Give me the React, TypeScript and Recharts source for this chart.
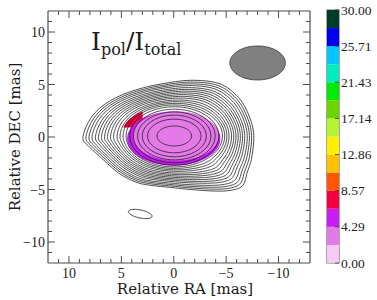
import React from "react";
import { Area, Bar, BarChart, ComposedChart, Line, ReferenceArea, XAxis, YAxis } from "recharts";

// Polarisation-fraction map: total-intensity contours with Ipol/Itotal colour fill and a colour bar.

const RA_DOMAIN: [number, number] = [-13, 12];
const DEC_DOMAIN: [number, number] = [-12, 12];
const raTicks = [-12, -11, -10, -9, -8, -7, -6, -5, -4, -3, -2, -1, 0, 1, 2, 3, 4, 5, 6, 7, 8, 9, 10, 11];
const decTicks = [-11, -10, -9, -8, -7, -6, -5, -4, -3, -2, -1, 0, 1, 2, 3, 4, 5, 6, 7, 8, 9, 10, 11];

// core of the source (mas)
const coreRA = -0.05;
const coreDEC = 0.1;

// inner contours: semi-axes of the nested ellipses (mas)
const innerA = [1.65, 2.55, 3.05, 3.5, 3.9, 4.25];
const innerB = [0.95, 1.6, 1.98, 2.28, 2.55, 2.78];

// outer contours fan out from this ellipse to the outermost contour below
const baseA = 4.6;
const baseB = 2.95;
const outerLevels = [0, 0.07, 0.14, 0.21, 0.29, 0.36, 0.43, 0.5, 0.57, 0.64, 0.71, 0.79, 0.86, 0.93, 1];

// outermost contour (clockwise from the eastern tip)
const outerRA = [8.67, 8.1, 7.0, 5.4, 3.4, 1.2, -1.6, -4.3, -6.0, -7.0, -7.62, -7.45, -7.0, -6.6, -5.6, -4.0, -1.6, 0.3, 2.2, 3.6, 5.3, 6.9, 8.1];
const outerDEC = [-0.1, 1.5, 2.8, 3.8, 4.55, 5.05, 5.4, 5.1, 3.95, 2.45, 0.4, -1.9, -3.4, -4.6, -5.05, -5.15, -5.0, -4.8, -4.6, -4.3, -3.4, -2.0, -0.9];

// isolated contour south-east of the core: centre, semi-axes, tilt (deg)
const blobRA = 3.2;
const blobDEC = -7.33;
const blobA = 1.15;
const blobB = 0.38;
const blobTilt = -12;

// restoring beam
const beamRA = -8.0;
const beamDEC = 7.05;
const beamA = 2.65;
const beamB = 1.62;

// polarisation fraction patches: centre RA, centre DEC, semi-axes, colour band, RA window, DEC floor
const patchRA = [0.5, 0.0, -0.2];
const patchDEC = [0.3, -0.15, 0.1];
const patchA = [4.45, 4.45, 4.1];
const patchB = [2.58, 2.58, 2.35];
const patchBand = [3, 2, 1];
const patchMinRA = [2.9, -10, -10];
const patchFloor = [0.9, NaN, NaN];

// colour bar
const bandEdges = [0, 2.14, 4.29, 6.43, 8.57, 10.71, 12.86, 15.0, 17.14, 19.29, 21.43, 23.57, 25.71, 27.86, 30.0];
const bandColors = [
  "#f6c9f6", "#e37ae8", "#c81bf5", "#f5003f", "#ff5500", "#ffc000", "#ffef00",
  "#b4f532", "#6ed400", "#00ea00", "#00ebc0", "#00c8ff", "#0000ee", "#003c28",
];
const barTicks = [0, 4.29, 8.57, 12.86, 17.14, 21.43, 25.71, 30.0];

const AXIS = "#4d4d4d";
const INK = "#1e1e1e";
const TICK_FONT = "'Liberation Serif', serif";
const LABEL_FONT = "'DejaVu Serif', serif";

type Pt = { x: number; y: number };

const ellipseRadius = (a: number, b: number, phi: number) =>
  (a * b) / Math.sqrt((b * Math.cos(phi)) ** 2 + (a * Math.sin(phi)) ** 2);

const toMap = (cRA: number, cDEC: number, r: number, phi: number): Pt => ({
  x: cRA - r * Math.cos(phi),
  y: cDEC + r * Math.sin(phi),
});

// closed Catmull-Rom through the read points of the outermost contour
const catmullClosed = (xs: number[], ys: number[], per: number): Pt[] => {
  const n = xs.length;
  const out: Pt[] = [];
  const f = (p0: number, p1: number, p2: number, p3: number, t: number) =>
    0.5 * (2 * p1 + (-p0 + p2) * t + (2 * p0 - 5 * p1 + 4 * p2 - p3) * t * t + (-p0 + 3 * p1 - 3 * p2 + p3) * t * t * t);
  for (let i = 0; i < n; i++) {
    const i0 = (i - 1 + n) % n;
    const i2 = (i + 1) % n;
    const i3 = (i + 2) % n;
    for (let s = 0; s < per; s++) {
      const t = s / per;
      out.push({ x: f(xs[i0], xs[i], xs[i2], xs[i3], t), y: f(ys[i0], ys[i], ys[i2], ys[i3], t) });
    }
  }
  return out;
};

const outerCurve = catmullClosed(outerRA, outerDEC, 8);

const STEPS = 120;
const angles = Array.from({ length: STEPS }, (_, k) => -Math.PI + (2 * Math.PI * k) / STEPS);

const innerContours = innerA.map((a, i) => angles.map((phi) => toMap(coreRA, coreDEC, ellipseRadius(a, innerB[i], phi), phi)));

const outerContours = outerLevels.map((t) =>
  outerCurve.map((p) => {
    const phi = Math.atan2(p.y - coreDEC, -(p.x - coreRA));
    const e = toMap(coreRA, coreDEC, ellipseRadius(baseA, baseB, phi), phi);
    return { x: e.x + t * (p.x - e.x), y: e.y + t * (p.y - e.y) };
  })
);

const tilted = (cRA: number, cDEC: number, a: number, b: number, tiltDeg: number): Pt[] => {
  const c = Math.cos((tiltDeg * Math.PI) / 180);
  const s = Math.sin((tiltDeg * Math.PI) / 180);
  return angles.map((phi) => {
    const u = a * Math.cos(phi);
    const v = b * Math.sin(phi);
    return { x: cRA - (u * c - v * s), y: cDEC + (u * s + v * c) };
  });
};

// filled ellipse as a range area: [lower, upper] DEC for each RA
const ellipseRange = (cRA: number, cDEC: number, a: number, b: number, minRA = -99, floor = NaN) =>
  Array.from({ length: 81 }, (_, k) => {
    const th = (Math.PI * k) / 80;
    const h = b * Math.sin(th);
    const lo = Number.isNaN(floor) ? cDEC - h : Math.min(floor, cDEC + h);
    return { x: cRA - a * Math.cos(th), r: [lo, cDEC + h] };
  }).filter((d) => d.x >= minRA);

const fmtTick = (v: number) => (v < 0 ? `\u2212${-v}` : `${v}`);

const BottomTick = (props: any) => {
  const { x, y, payload } = props;
  const major = payload.value % 5 === 0;
  return (
    <g>
      <line x1={x} y1={y} x2={x} y2={y - (major ? 7 : 4)} stroke={AXIS} strokeWidth={1} />
      {major && (
        <text x={x} y={y + 15} textAnchor="middle" fontFamily={TICK_FONT} fontSize={14} fill="#222">
          {fmtTick(payload.value)}
        </text>
      )}
    </g>
  );
};

const TopTick = (props: any) => {
  const { x, y, payload } = props;
  const major = payload.value % 5 === 0;
  return <line x1={x} y1={y} x2={x} y2={y + (major ? 7 : 4)} stroke={AXIS} strokeWidth={1} />;
};

const LeftTick = (props: any) => {
  const { x, y, payload } = props;
  const major = payload.value % 5 === 0;
  return (
    <g>
      <line x1={x} y1={y} x2={x + (major ? 7 : 4)} y2={y} stroke={AXIS} strokeWidth={1} />
      {major && (
        <text x={x - 3} y={y + 5} textAnchor="end" fontFamily={TICK_FONT} fontSize={14} fill="#222">
          {fmtTick(payload.value)}
        </text>
      )}
    </g>
  );
};

const RightTick = (props: any) => {
  const { x, y, payload } = props;
  const major = payload.value % 5 === 0;
  return <line x1={x} y1={y} x2={x - (major ? 7 : 4)} y2={y} stroke={AXIS} strokeWidth={1} />;
};

const BarTick = (props: any) => {
  const { x, y, payload } = props;
  return (
    <g>
      <line x1={x} y1={y} x2={x - 4} y2={y} stroke="#333" strokeWidth={0.8} />
      <text x={x + 2} y={y + 4.5} textAnchor="start" fontFamily={TICK_FONT} fontSize={13.5} fill="#222">
        {payload.value.toFixed(2)}
      </text>
    </g>
  );
};

const barRow: Record<string, number | string> = { name: "fraction" };
bandColors.forEach((_, i) => {
  barRow[`b${i}`] = bandEdges[i + 1] - bandEdges[i];
});

export default function App() {
  return (
    <div style={{ position: "absolute", left: 0, top: 0, width: 377, height: 300, background: "#fff" }}>
      <ComposedChart width={320} height={300} margin={{ top: 10, right: 0, bottom: 0, left: 0 }}>
        <XAxis
          type="number"
          dataKey="x"
          domain={RA_DOMAIN}
          reversed
          allowDataOverflow
          ticks={raTicks}
          interval={0}
          height={37}
          tickSize={0}
          tickMargin={0}
          tickLine={false}
          tick={<BottomTick />}
          axisLine={{ stroke: AXIS, strokeWidth: 1.2 }}
        />
        <XAxis
          xAxisId="top"
          orientation="top"
          type="number"
          dataKey="x"
          domain={RA_DOMAIN}
          reversed
          allowDataOverflow
          ticks={raTicks}
          interval={0}
          height={1}
          tickSize={0}
          tickMargin={0}
          tickLine={false}
          tick={<TopTick />}
          axisLine={{ stroke: AXIS, strokeWidth: 1.2 }}
        />
        <YAxis
          type="number"
          domain={DEC_DOMAIN}
          allowDataOverflow
          ticks={decTicks}
          interval={0}
          width={48}
          tickSize={0}
          tickMargin={0}
          tickLine={false}
          tick={<LeftTick />}
          axisLine={{ stroke: AXIS, strokeWidth: 1.2 }}
        />
        <YAxis
          yAxisId="right"
          orientation="right"
          type="number"
          domain={DEC_DOMAIN}
          allowDataOverflow
          ticks={decTicks}
          interval={0}
          width={10}
          tickSize={0}
          tickMargin={0}
          tickLine={false}
          tick={<RightTick />}
          axisLine={{ stroke: AXIS, strokeWidth: 1.2 }}
        />

        {patchRA.map((ra, i) => (
          <Area
            key={`patch-${i}`}
            data={ellipseRange(ra, patchDEC[i], patchA[i], patchB[i], patchMinRA[i], patchFloor[i])}
            dataKey="r"
            type="linear"
            fill={bandColors[patchBand[i]]}
            fillOpacity={1}
            stroke="none"
            isAnimationActive={false}
            activeDot={false}
          />
        ))}

        {[...outerContours, ...innerContours].map((pts, i) => (
          <Line
            key={`contour-${i}`}
            data={pts}
            dataKey="y"
            type="linearClosed"
            stroke={INK}
            strokeWidth={0.8}
            dot={false}
            activeDot={false}
            isAnimationActive={false}
          />
        ))}

        <Area
          xAxisId="top"
          yAxisId="right"
          data={ellipseRange(beamRA, beamDEC, beamA, beamB)}
          dataKey="r"
          type="linear"
          fill="#808080"
          fillOpacity={1}
          stroke="#333"
          strokeWidth={0.8}
          isAnimationActive={false}
          activeDot={false}
        />
        <Line
          xAxisId="top"
          yAxisId="right"
          data={tilted(blobRA, blobDEC, blobA, blobB, blobTilt)}
          dataKey="y"
          type="linearClosed"
          stroke={INK}
          strokeWidth={0.9}
          dot={false}
          activeDot={false}
          isAnimationActive={false}
        />
      </ComposedChart>

      <div style={{ position: "absolute", left: 300, top: 0 }}>
        <BarChart
          width={77}
          height={300}
          data={[barRow]}
          margin={{ top: 10, right: 0, bottom: 37, left: 27 }}
          barCategoryGap={0}
          barGap={0}
        >
          <XAxis dataKey="name" hide />
          <YAxis
            orientation="right"
            type="number"
            domain={[0, 30]}
            ticks={barTicks}
            interval={0}
            width={38}
            tickSize={0}
            tickMargin={0}
            tickLine={false}
            axisLine={false}
            tick={<BarTick />}
          />
          {bandColors.map((c, i) => (
            <Bar key={`band-${i}`} dataKey={`b${i}`} stackId="cb" fill={c} isAnimationActive={false} />
          ))}
          <ReferenceArea y1={0} y2={30} fill="none" stroke="#6e6e6e" strokeWidth={1.2} ifOverflow="visible" />
        </BarChart>
      </div>

      <div
        style={{
          position: "absolute",
          left: 91,
          top: 29,
          fontFamily: LABEL_FONT,
          fontSize: 25,
          lineHeight: "25px",
          whiteSpace: "nowrap",
          color: "#1a1a1a",
        }}
      >
        I<span style={{ fontSize: 16, position: "relative", top: 5 }}>pol</span>/I
        <span style={{ fontSize: 16, position: "relative", top: 5 }}>total</span>
      </div>

      <div
        style={{
          position: "absolute",
          left: 185,
          top: 289,
          transform: "translate(-50%, -50%)",
          fontFamily: LABEL_FONT,
          fontSize: 15,
          whiteSpace: "nowrap",
          color: "#1a1a1a",
        }}
      >
        Relative RA [mas]
      </div>
      <div
        style={{
          position: "absolute",
          left: 15,
          top: 137,
          transform: "translate(-50%, -50%) rotate(-90deg)",
          fontFamily: LABEL_FONT,
          fontSize: 15,
          whiteSpace: "nowrap",
          color: "#1a1a1a",
        }}
      >
        Relative DEC [mas]
      </div>
    </div>
  );
}
